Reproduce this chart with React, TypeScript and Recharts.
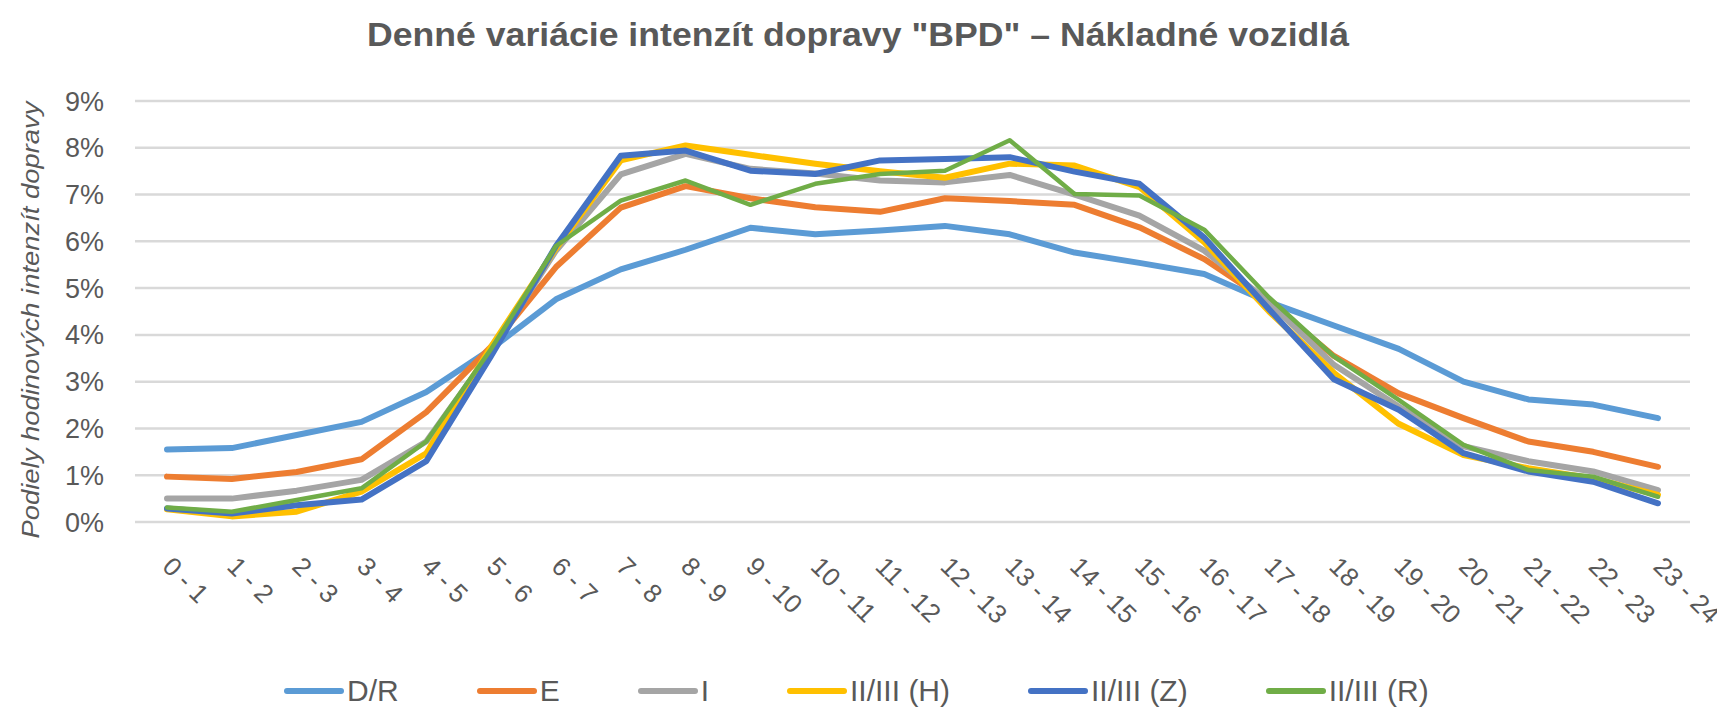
import { LineChart, Line, XAxis, YAxis, CartesianGrid, Label } from 'recharts'

const hours = [
  '0 - 1', '1 - 2', '2 - 3', '3 - 4', '4 - 5', '5 - 6', '6 - 7', '7 - 8',
  '8 - 9', '9 - 10', '10 - 11', '11 - 12', '12 - 13', '13 - 14', '14 - 15', '15 - 16',
  '16 - 17', '17 - 18', '18 - 19', '19 - 20', '20 - 21', '21 - 22', '22 - 23', '23 - 24',
]

// shares of hourly traffic, in %
const dR = [1.55, 1.58, 1.86, 2.14, 2.78, 3.7, 4.76, 5.4, 5.82, 6.29, 6.15, 6.23, 6.33, 6.15, 5.76, 5.54, 5.3, 4.7, 4.2, 3.7, 3.0, 2.62, 2.51, 2.22]
const e = [0.97, 0.92, 1.07, 1.34, 2.35, 3.75, 5.45, 6.72, 7.18, 6.92, 6.73, 6.63, 6.92, 6.86, 6.78, 6.3, 5.62, 4.7, 3.55, 2.75, 2.22, 1.72, 1.5, 1.18]
const i1 = [0.5, 0.5, 0.67, 0.9, 1.72, 3.65, 5.8, 7.43, 7.87, 7.55, 7.45, 7.3, 7.26, 7.42, 7.0, 6.55, 5.8, 4.7, 3.36, 2.47, 1.62, 1.3, 1.08, 0.68]
const h = [0.27, 0.12, 0.22, 0.65, 1.47, 3.75, 5.85, 7.73, 8.05, 7.85, 7.66, 7.5, 7.36, 7.66, 7.62, 7.16, 5.98, 4.5, 3.19, 2.1, 1.43, 1.15, 0.93, 0.58]
const z = [0.29, 0.18, 0.36, 0.48, 1.3, 3.55, 5.9, 7.83, 7.94, 7.51, 7.44, 7.73, 7.76, 7.8, 7.49, 7.23, 6.08, 4.55, 3.05, 2.4, 1.47, 1.08, 0.86, 0.4]
const r = [0.31, 0.22, 0.47, 0.72, 1.72, 3.7, 5.9, 6.87, 7.3, 6.78, 7.23, 7.44, 7.51, 8.16, 7.01, 6.98, 6.25, 4.8, 3.54, 2.61, 1.65, 1.11, 0.97, 0.54]

const yTicks = [0, 1, 2, 3, 4, 5, 6, 7, 8, 9]

const series = [
  { key: 'dr', name: 'D/R', color: '#5B9BD5', values: dR, width: 6 },
  { key: 'e', name: 'E', color: '#ED7D31', values: e, width: 6 },
  { key: 'i', name: 'I', color: '#A5A5A5', values: i1, width: 6 },
  { key: 'h', name: 'II/III (H)', color: '#FFC000', values: h, width: 6 },
  { key: 'z', name: 'II/III (Z)', color: '#4472C4', values: z, width: 6 },
  { key: 'r', name: 'II/III (R)', color: '#70AD47', values: r, width: 4.5 },
]

const data = hours.map((hour, idx) => {
  const row: Record<string, string | number> = { hour }
  series.forEach((s) => { row[s.key] = s.values[idx] })
  return row
})

const FONT = '"Liberation Sans", Arial, sans-serif'
const TEXT = '#595959'

const HourTick = ({ x, y, payload }: any) => {
  const ax = x - 6
  const ay = y + 46
  return (
    <text
      x={ax}
      y={ay}
      transform={`rotate(45 ${ax} ${ay})`}
      textAnchor="start"
      fill={TEXT}
      fontSize={26}
      fontFamily={FONT}
    >
      {payload.value}
    </text>
  )
}

const AxisTitle = () => (
  <text
    x={23}
    y={312}
    transform="rotate(-90 23 312)"
    textAnchor="middle"
    dominantBaseline="central"
    fill={TEXT}
    fontSize={23}
    fontStyle="italic"
    fontFamily={FONT}
    textLength={437}
    lengthAdjust="spacingAndGlyphs"
  >
    Podiely hodinových intenzít dopravy
  </text>
)

export default function App() {
  return (
    <div style={{ position: 'relative', width: 1717, height: 699, fontFamily: FONT, background: '#fff' }}>
      <style>{'.recharts-surface { overflow: visible; }'}</style>
      <svg width={1717} height={70} style={{ position: 'absolute', left: 0, top: 0 }}>
        <text
          x={850}
          y={26}
          textAnchor="middle"
          dominantBaseline="central"
          fill={TEXT}
          fontSize={33}
          fontWeight={700}
          fontFamily={FONT}
          textLength={982}
          lengthAdjust="spacingAndGlyphs"
        >
          Denné variácie intenzít dopravy "BPD" – Nákladné vozidlá
        </text>
      </svg>
      <LineChart width={1717} height={699} data={data} margin={{ top: 93, right: 35, bottom: 0, left: 0 }}>
        <CartesianGrid vertical={false} stroke="#D9D9D9" strokeWidth={2.5} />
        <XAxis
          dataKey="hour"
          interval={0}
          height={185}
          padding={{ left: 32, right: 32 }}
          axisLine={false}
          tickLine={false}
          tickSize={0}
          tickMargin={0}
          tick={<HourTick />}
        />
        <YAxis
          width={127}
          domain={[0, 9]}
          ticks={yTicks}
          tickFormatter={(v) => `${v}%`}
          axisLine={false}
          tickLine={false}
          tickSize={0}
          tickMargin={31}
          tick={{ fill: TEXT, fontSize: 27, fontFamily: FONT }}
        >
          <Label content={<AxisTitle />} />
        </YAxis>
        {series.map((s) => (
          <Line
            key={s.key}
            type="linear"
            dataKey={s.key}
            name={s.name}
            stroke={s.color}
            strokeWidth={s.width}
            strokeLinejoin="round"
            strokeLinecap="round"
            dot={false}
            activeDot={false}
            isAnimationActive={false}
          />
        ))}
      </LineChart>
      <div
        style={{
          position: 'absolute',
          left: 276,
          top: 665,
          height: 36,
          display: 'flex',
          alignItems: 'center',
          gap: 78,
          whiteSpace: 'nowrap',
        }}
      >
        {series.map((s) => (
          <div key={s.key} style={{ display: 'flex', alignItems: 'center' }}>
            <span style={{ display: 'inline-block', width: 60, height: 6, borderRadius: 3, background: s.color }} />
            <span style={{ marginLeft: 3, fontSize: 30, color: TEXT }}>{s.name}</span>
          </div>
        ))}
      </div>
    </div>
  )
}
